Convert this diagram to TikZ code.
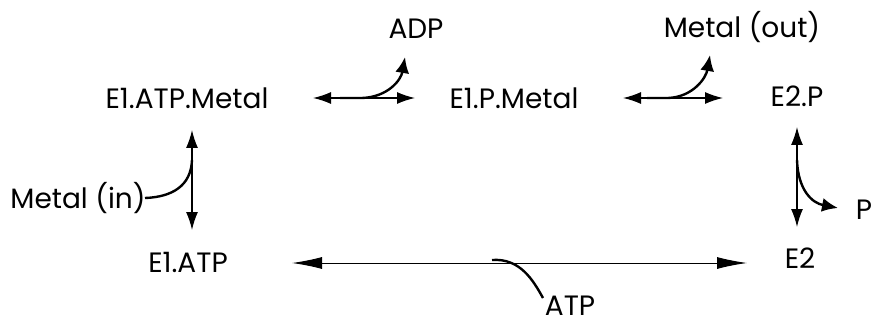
\documentclass[tikz,border=0pt]{standalone}
\usepackage{fontspec}
\setmainfont{Poppins}
\usetikzlibrary{arrows.meta}
\begin{document}
\begin{tikzpicture}[x=1pt,y=-1pt,
  lbl/.style={font=\fontsize{28}{32}\selectfont, inner sep=0pt, anchor=center},
  mainline/.style={line width=1.4pt, {Latex[length=18pt,width=12pt]}-{Latex[length=18pt,width=12pt]}},
  longline/.style={line width=1pt, {Latex[length=30pt,width=12pt]}-{Latex[length=30pt,width=12pt]}},
  branch/.style={line width=2.4pt, -{Latex[length=16pt,width=14pt]}},
  branchin/.style={line width=2.4pt}]
\useasboundingbox (0,0) rectangle (881,326);
% nodes
\node[lbl] (etm) at (187,98) {E1.ATP.Metal};
\node[lbl] (epm) at (514,98) {E1.P.Metal};
\node[lbl] (e2p) at (797,96) {E2.P};
\node[lbl] (e2)  at (800,258) {E2};
\node[lbl] (eat) at (188,262) {E1.ATP};
\node[lbl] (adp) at (416,29) {ADP};
\node[lbl] (mout) at (742,27) {Metal (out)};
\node[lbl] (min) at (78,198) {Metal (in)};
\node[lbl] (p) at (864,210) {P};
\node[lbl] (atp) at (570,306) {ATP};
% anchor coordinates
\coordinate (a1l) at (313,98); \coordinate (a1r) at (415,98);
\coordinate (a2l) at (623,98); \coordinate (a2r) at (723,98);
\coordinate (vlt) at (192,130); \coordinate (vlb) at (192,230);
\coordinate (vrt) at (797,127); \coordinate (vrb) at (797,227);
\coordinate (bl) at (292,263); \coordinate (br) at (747,263);
\coordinate (adptip) at (405,57);
\coordinate (mouttip) at (710,55);
\coordinate (ptip) at (838,208);
\coordinate (atpend) at (543,298);
\coordinate (minend) at (145,198);
% main reversible arrows
\draw[mainline] (a1l) -- (a1r);
\draw[mainline] (a2l) -- (a2r);
\draw[mainline] (vlt) -- (vlb);
\draw[mainline] (vrt) -- (vrb);
\draw[longline] (bl) -- (br);
% branches
\draw[branch] (340,98) -- (362,98) .. controls (388,97) and (401,80) .. (adptip);
\draw[branch] (647,98) -- (668,98) .. controls (693,97) and (706,78) .. (mouttip);
\draw[branch] (797,160) .. controls (798,190) and (812,203) .. (ptip);
\draw[branchin] (minend) .. controls (172,197) and (191,186) .. (192,160);
\draw[branchin] (492,260) .. controls (520,258) and (533,280) .. (atpend);
\end{tikzpicture}
\end{document}
